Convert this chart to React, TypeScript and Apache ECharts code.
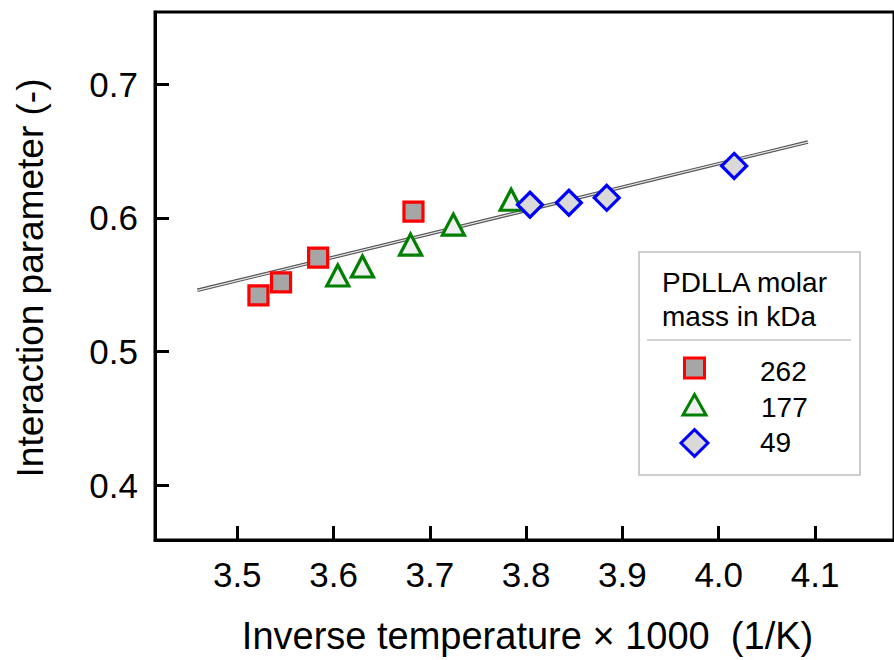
import React, { useEffect, useRef } from "react";
import * as echarts from "echarts";

// Data
const s262X = [3.522, 3.5455, 3.584, 3.683];
const s262Y = [0.5421, 0.5518, 0.5704, 0.6047];
const s177X = [3.6044, 3.630, 3.680, 3.7244, 3.7844];
const s177Y = [0.557, 0.5637, 0.5801, 0.595, 0.6136];
const s49X = [3.804, 3.8444, 3.8837, 4.016];
const s49Y = [0.6099, 0.6114, 0.6151, 0.6389];
const fitX = [3.4586, 4.0926];
const fitY = [0.5459, 0.6568];
const xTicks = [3.5, 3.6, 3.7, 3.8, 3.9, 4.0, 4.1];
const yTicks = [0.4, 0.5, 0.6, 0.7];
const legendTitle = ["PDLLA molar", "mass in kDa"];
const legendNames = ["262", "177", "49"];

const FONT = "Liberation Sans";

const zip = (xs: number[], ys: number[]) => xs.map((x, i) => [x, ys[i]]);

export default function App() {
  const ref = useRef<HTMLDivElement>(null);
  useEffect(() => {
    if (!ref.current) return;
    const chart = echarts.init(ref.current, null, { renderer: "svg" });
    const option: any = {
      animation: false,
      backgroundColor: "#ffffff",
      grid: {
        left: 155,
        top: 12,
        width: 743,
        height: 531,
        show: true,
        borderColor: "#000",
        borderWidth: 3,
        backgroundColor: "transparent",
      },
      xAxis: {
        type: "value",
        min: 3.4146,
        max: 4.182,
        name: "Inverse temperature × 1000  (1/K)",
        nameLocation: "middle",
        nameGap: 77,
        nameTextStyle: { fontFamily: FONT, fontSize: 38, color: "#000", padding: [0, 0, 0, 6] },
        axisLine: { show: true, lineStyle: { color: "#000", width: 3 } },
        axisTick: {
          show: true,
          inside: true,
          length: 14,
          lineStyle: { color: "#000", width: 3 },
          customValues: xTicks,
        },
        axisLabel: {
          fontFamily: FONT,
          fontSize: 35,
          color: "#000",
          margin: 17,
          customValues: xTicks,
          formatter: (v: number) => v.toFixed(1),
        },
        splitLine: { show: false },
      },
      yAxis: {
        type: "value",
        min: 0.3591,
        max: 0.7541,
        name: "Interaction parameter (-)",
        nameLocation: "middle",
        nameGap: 106,
        nameRotate: 90,
        nameTextStyle: { fontFamily: FONT, fontSize: 37, color: "#000", padding: [0, 4, 0, 0] },
        axisLine: { show: true, lineStyle: { color: "#000", width: 3 } },
        axisTick: {
          show: true,
          inside: true,
          length: 14,
          lineStyle: { color: "#000", width: 3 },
          customValues: yTicks,
        },
        axisLabel: {
          fontFamily: FONT,
          fontSize: 35,
          color: "#000",
          margin: 17,
          customValues: yTicks,
          formatter: (v: number) => v.toFixed(1),
        },
        splitLine: { show: false },
      },
      series: [
        {
          type: "line",
          data: zip(fitX, fitY),
          symbol: "none",
          lineStyle: { color: "#555", width: 3.5 },
          silent: true,
          z: 1,
        },
        {
          type: "line",
          data: zip(fitX, fitY),
          symbol: "none",
          lineStyle: { color: "#e6e6e6", width: 1.2 },
          silent: true,
          z: 2,
        },
        {
          name: legendNames[0],
          type: "scatter",
          data: zip(s262X, s262Y),
          symbol: "rect",
          symbolSize: 19,
          itemStyle: { color: "#a6a6a6", borderColor: "#ff0000", borderWidth: 3.2, opacity: 1 },
          z: 3,
        },
        {
          name: legendNames[1],
          type: "scatter",
          data: zip(s177X, s177Y),
          symbol: "triangle",
          symbolSize: [22, 21],
          itemStyle: { color: "#f0f0f0", borderColor: "#008000", borderWidth: 3.2, opacity: 1 },
          z: 3,
        },
        {
          name: legendNames[2],
          type: "scatter",
          data: zip(s49X, s49Y),
          symbol: "diamond",
          symbolSize: [25, 25],
          itemStyle: { color: "#d9d9d9", borderColor: "#0000ff", borderWidth: 3.2, opacity: 1 },
          z: 3,
        },
      ],
      graphic: [
        {
          type: "rect",
          shape: { x: 639, y: 252, width: 221, height: 223 },
          style: { fill: "#fff", stroke: "#bfbfbf", lineWidth: 1.5 },
          z: 10,
        },
        {
          type: "text",
          x: 662,
          y: 265,
          style: {
            text: legendTitle.join("\n"),
            fontFamily: FONT,
            fontSize: 28,
            lineHeight: 34,
            fill: "#000",
          },
          z: 11,
        },
        {
          type: "line",
          shape: { x1: 647, y1: 340, x2: 851, y2: 340 },
          style: { stroke: "#aaaaaa", lineWidth: 1.2 },
          z: 11,
        },
        {
          type: "rect",
          shape: { x: 684.5, y: 358, width: 20, height: 20 },
          style: { fill: "#a6a6a6", stroke: "#ff0000", lineWidth: 3 },
          z: 11,
        },
        {
          type: "polygon",
          shape: { points: [[694.5, 394.5], [706, 415], [683, 415]] },
          style: { fill: "#f0f0f0", stroke: "#008000", lineWidth: 3 },
          z: 11,
        },
        {
          type: "polygon",
          shape: { points: [[694.5, 429.6], [708, 443], [694.5, 456.4], [681, 443]] },
          style: { fill: "#d9d9d9", stroke: "#0000ff", lineWidth: 3 },
          z: 11,
        },
        {
          type: "text",
          x: 760,
          y: 371,
          style: { text: legendNames[0], fontFamily: FONT, fontSize: 28, fill: "#000", verticalAlign: "middle" },
          z: 11,
        },
        {
          type: "text",
          x: 761,
          y: 407,
          style: { text: legendNames[1], fontFamily: FONT, fontSize: 28, fill: "#000", verticalAlign: "middle" },
          z: 11,
        },
        {
          type: "text",
          x: 760,
          y: 442,
          style: { text: legendNames[2], fontFamily: FONT, fontSize: 28, fill: "#000", verticalAlign: "middle" },
          z: 11,
        },
      ],
    };
    chart.setOption(option);
    return () => chart.dispose();
  }, []);
  return (
    <div
      ref={ref}
      style={{ position: "absolute", left: 0, top: 0, width: 894, height: 660, overflow: "hidden" }}
    />
  );
}
